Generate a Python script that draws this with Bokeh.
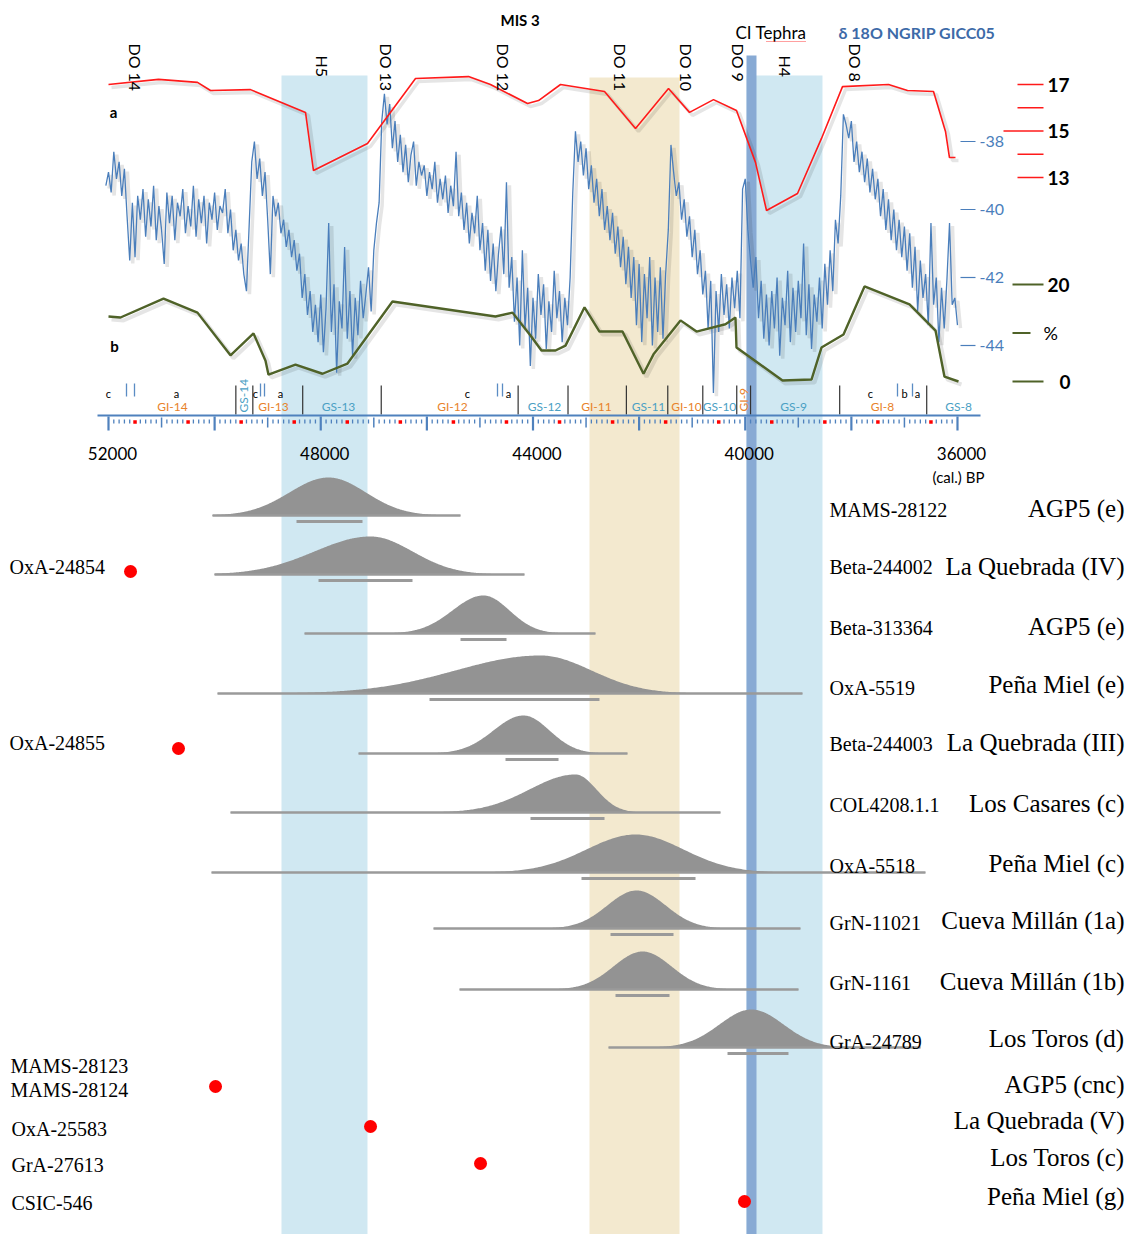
import numpy as np
from bokeh.plotting import figure
from bokeh.models import Range1d
from bokeh.core.properties import value
from bokeh.embed import file_html
from bokeh.resources import INLINE

# ---------------------------------------------------------------- data
# NGRIP d18O (GICC05), read every 50 yr from the picture
D18O_AGE = list(range(52050, 35950, -50))
D18O = [
    -39.3, -38.9, -39.5, -38.3, -39.1, -38.6, -39.6, -38.8, -40.2, -41.5,
    -39.8, -41.4, -39.6, -40.3, -39.4, -40.8, -39.7, -40.5, -39.3, -40.9,
    -39.9, -40.6, -41.6, -39.5, -40.4, -39.6, -40.9, -39.8, -40.2, -39.4,
    -40.7, -39.9, -40.5, -39.3, -40.8, -39.7, -40.4, -39.6, -41.0, -39.8,
    -40.3, -39.5, -40.6, -39.9, -40.1, -39.4, -40.7, -40.0, -41.2, -40.6,
    -41.5, -41.0, -41.9, -42.4, -40.5, -38.6, -38.0, -39.1, -38.5, -39.6,
    -38.9, -40.3, -41.9, -39.6, -40.2, -39.8, -40.7, -40.3, -41.1, -40.6,
    -41.4, -40.9, -41.8, -41.3, -42.6, -41.9, -43.1, -42.4, -43.6, -42.8,
    -43.9, -42.5, -44.2, -42.9, -40.4, -43.6, -42.2, -44.8, -42.7, -43.5,
    -41.1, -43.8, -42.4, -44.3, -42.6, -43.7, -42.1, -43.2, -42.5, -41.7,
    -43.0, -41.2, -40.4, -39.8, -37.4, -36.6, -37.5, -36.9, -38.2, -37.4,
    -38.6, -37.8, -38.9, -38.1, -39.2, -38.4, -38.0, -39.3, -38.6, -39.0,
    -38.7, -39.6, -38.9, -39.4, -38.6, -39.8, -39.1, -39.7, -39.0, -40.1,
    -39.3, -39.9, -38.3, -40.2, -39.5, -40.6, -39.8, -41.0, -40.1, -40.7,
    -39.6, -41.2, -40.4, -41.8, -40.6, -42.1, -41.0, -42.4, -41.3, -40.5,
    -41.9, -39.2, -42.3, -41.4, -43.3, -42.0, -44.0, -41.2, -43.5, -42.3,
    -44.6, -42.6, -43.8, -41.9, -43.1, -42.2, -44.1, -42.7, -43.6, -41.8,
    -43.2, -42.4, -43.9, -42.6, -43.4, -42.0, -39.5, -37.7, -38.6, -38.0,
    -39.0, -38.2, -39.4, -38.7, -39.8, -39.1, -40.2, -39.4, -40.6, -39.9,
    -40.9, -40.1, -41.3, -40.5, -41.7, -40.8, -42.2, -41.1, -42.6, -41.4,
    -43.4, -41.6, -43.9, -41.9, -43.2, -41.4, -44.0, -42.0, -43.6, -41.7,
    -43.8, -41.9, -40.6, -38.1, -38.9, -39.6, -39.2, -40.3, -39.7, -40.8,
    -40.2, -41.4, -40.6, -41.9, -41.2, -42.5, -41.8, -43.5, -42.1, -45.4,
    -42.4, -43.6, -41.9, -43.1, -42.2, -43.5, -42.0, -42.9, -41.8, -43.2,
    -39.4, -39.1, -40.6, -41.5, -42.3, -41.4, -43.2, -42.1, -43.8, -42.5,
    -44.0, -42.4, -43.5, -42.0, -44.3, -42.6, -43.4, -41.8, -43.9, -42.3,
    -43.6, -42.1, -43.2, -41.0, -43.7, -42.2, -44.1, -42.5, -43.3, -42.0,
    -43.5, -41.6, -42.8, -41.2, -42.4, -40.3, -41.0, -39.6, -37.2, -37.5,
    -37.9, -37.4, -38.6, -38.0, -38.9, -38.3, -39.2, -38.5, -39.5, -38.8,
    -39.7, -39.1, -40.2, -39.4, -40.6, -39.7, -40.9, -40.0, -41.2, -40.3,
    -41.4, -40.5, -41.8, -40.7, -42.3, -41.1, -43.0, -41.5, -42.6, -41.9,
    -43.4, -40.4, -42.8, -42.0, -43.9, -42.3, -43.5, -42.1, -40.4, -42.8,
    -42.6, -43.4,
]

# curve a (red)
TEMP_AGE = [52000, 51058, 50323, 50078, 49324, 48287, 48137, 47119, 46214, 45215,
            44801, 44103, 43896, 43481, 42652, 42068, 41446, 41050, 40598, 40165,
            39807, 39599, 39015, 38563, 38167, 37300, 36942, 36452, 36226, 36151, 36038]
TEMP = [17.0, 17.22, 17.09, 16.74, 16.78, 15.80, 13.30, 14.46, 17.26, 17.34,
        17.0, 16.18, 16.31, 17.0, 16.70, 15.11, 16.83, 15.80, 16.35, 15.88,
        13.65, 11.58, 12.31, 14.68, 16.91, 17.0, 16.74, 16.70, 14.98, 13.86, 13.86]

# curve b (green, %)
PCT_AGE = [52000, 51774, 50963, 50323, 49701, 49267, 49041, 48985, 48476, 47967,
           47496, 46648, 44707, 44386, 44047, 43840, 43576, 43387, 43029, 42747,
           42313, 41917, 41729, 41220, 40919, 40372, 40184, 40165, 39298, 38751,
           38563, 38148, 37752, 36904, 36414, 36245, 35981]
PCT = [13.4, 13.2, 17.1, 14.2, 5.4, 9.9, 4.3, 1.4, 3.5, 1.6,
       3.7, 16.5, 13.4, 14.2, 9.5, 6.4, 6.4, 7.4, 15.3, 10.3,
       10.3, 1.6, 5.6, 12.6, 10.3, 11.8, 13.2, 7.0, 0.2, 0.4,
       7.0, 9.7, 19.6, 15.9, 10.5, 1.0, 0.0]

# Greenland stadial / interstadial boundaries (yr b2k)
STAGE_BOUNDS = [49600, 49280, 48340, 46860, 44280, 43340, 42240, 41460,
                40800, 40160, 39900, 38220, 36580]
STAGE_NAMES = ["GI-14", "GS-14", "GI-13", "GS-13", "GI-12", "GS-12", "GI-11",
               "GS-11", "GI-10", "GS-10", "GI-9", "GS-9", "GI-8", "GS-8"]

# shaded events (yr)
H5_BAND = (48740, 47119)
DO11_BAND = (42935, 41239)
H4_BAND = (39976, 38544)
CI_TEPHRA = (39976, 39788)

# radiocarbon dates with calibrated distributions
LAB = ["MAMS-28122", "Beta-244002", "Beta-313364", "OxA-5519", "Beta-244003",
       "COL4208.1.1", "OxA-5518", "GrN-11021", "GrN-1161", "GrA-24789"]
SITE = ["AGP5 (e)", "La Quebrada (IV)", "AGP5 (e)", "Peña Miel (e)", "La Quebrada (III)",
        "Los Casares (c)", "Peña Miel (c)", "Cueva Millán (1a)", "Cueva Millán (1b)",
        "Los Toros (d)"]
MODE = [47854, 47062, 44933, 43859, 44179, 43199, 42068, 42049, 41936, 39882]
SD_OLD = [735, 1055, 584, 1602, 565, 867, 923, 550, 547, 603]
SD_YOUNG = [705, 792, 490, 961, 490, 396, 905, 550, 547, 603]
RANGE_OLD = [50040, 50002, 48306, 49946, 47288, 49701, 50059, 45875, 45385, 42577]
RANGE_YOUNG = [45366, 44160, 42822, 38921, 42219, 40466, 36603, 38959, 38996, 36697]
BAR_OLD = [48457, 48042, 45366, 45950, 44518, 44047, 43086, 42539, 42445, 40334]
BAR_YOUNG = [47213, 46271, 44499, 42747, 43519, 42652, 40937, 41352, 41427, 39185]

# dates shown as dots only
DOT_LAB = ["OxA-24854", "OxA-24855", "MAMS-28123\nMAMS-28124", "OxA-25583", "GrA-27613", "CSIC-546"]
DOT_AGE = [51585, 50681, 49983, 47062, 44989, 40014]
DOT_SITE = ["AGP5 (cnc)", "La Quebrada (V)", "Los Toros (c)", "Peña Miel (g)"]

AXIS_LABEL_AGES = [52000, 48000, 44000, 40000, 36000]

# ---------------------------------------------------------------- layout
W, H = 1128, 1234
YR_L, YR_R = 54035.4, 32777.1          # years at the left / right canvas edge
YPX = (YR_L - YR_R) / W                # years per pixel


def X(px):
    """canvas x pixel -> years (layout helper)"""
    return YR_L - px * YPX


def rng(v1, y1, v2, y2):
    k = (y1 - y2) / (v2 - v1)           # px per unit
    return Range1d(start=v1 - (H - y1) / k, end=v2 + y2 / k)


p = figure(width=W, height=H, x_range=Range1d(YR_L, YR_R), y_range=Range1d(H, 0),
           output_backend="svg", toolbar_location=None, min_border=0,
           x_axis_type=None, y_axis_type=None, outline_line_color=None,
           background_fill_color="white", border_fill_color="white")
p.grid.visible = False
K_T = (177 - 84) / 4.0
K_D = (345 - 141) / 6.0
K_P = (381 - 284) / 20.0
p.extra_y_ranges = {"temp": rng(13, 177, 17, 84),
                    "d18o": rng(-44, 345, -38, 141),
                    "pct": rng(0, 381, 20, 284)}

LATO = value("Lato")
SERIF = value("Liberation Serif")

# bands
p.quad(left=[H5_BAND[0], H4_BAND[0]], right=[H5_BAND[1], H4_BAND[1]],
       top=[75, 75], bottom=[H, H], fill_color="#d0e8f2", line_color=None)
p.quad(left=[DO11_BAND[0]], right=[DO11_BAND[1]], top=[77], bottom=[H],
       fill_color="#f3e9cf", line_color=None)
p.quad(left=[CI_TEPHRA[0]], right=[CI_TEPHRA[1]], top=[55], bottom=[H],
       fill_color="#88aad4", line_color=None)

# soft shadows (offset copies of the series)
sx, sy = 3 * YPX, 3.0
p.line([a - sx for a in D18O_AGE], [v - sy / K_D for v in D18O], y_range_name="d18o",
       line_color="black", line_alpha=0.10, line_width=3.5)
p.line([a - sx for a in TEMP_AGE], [v - sy / K_T for v in TEMP], y_range_name="temp",
       line_color="black", line_alpha=0.10, line_width=3.5)
p.line([a - sx for a in PCT_AGE], [v - sy / K_P for v in PCT], y_range_name="pct",
       line_color="black", line_alpha=0.10, line_width=4)

# series
p.line(D18O_AGE, D18O, y_range_name="d18o", line_color="#4a7ebb", line_width=1.3)
p.line(TEMP_AGE, TEMP, y_range_name="temp", line_color="#ff1a1a", line_width=1.6)
p.line(PCT_AGE, PCT, y_range_name="pct", line_color="#4f6228", line_width=2.4)

# right hand scales
p.segment(x0=[X(1017), X(1017), X(1003), X(1017), X(1017)], x1=[X(1043)] * 5,
          y0=[17, 16, 15, 14, 13], y1=[17, 16, 15, 14, 13], y_range_name="temp",
          line_color="#ff1a1a", line_width=1.6)
p.text(x=[X(1047)] * 3, y=[17, 15, 13], text=["17", "15", "13"], y_range_name="temp",
       text_font=LATO, text_font_size="19px", text_font_style="bold",
       text_align="left", text_baseline="middle", text_color="black")
p.segment(x0=[X(960)] * 4, x1=[X(975)] * 4, y0=[-38, -40, -42, -44], y1=[-38, -40, -42, -44],
          y_range_name="d18o", line_color="#4a7ebb", line_width=1.2)
p.text(x=[X(979)] * 4, y=[-38, -40, -42, -44], text=["-38", "-40", "-42", "-44"],
       y_range_name="d18o", text_font=LATO, text_font_size="16px",
       text_align="left", text_baseline="middle", text_color="#4a7ebb")
p.segment(x0=[X(1012)] * 3, x1=[X(1043), X(1030), X(1043)], y0=[20, 10, 0], y1=[20, 10, 0],
          y_range_name="pct", line_color="#4f6228", line_width=2)
p.text(x=[X(1047), X(1059)], y=[20, 0], text=["20", "0"], y_range_name="pct",
       text_font=LATO, text_font_size="19px", text_font_style="bold",
       text_align="left", text_baseline="middle", text_color="black")
p.text(x=[X(1043)], y=[10], text=["%"], y_range_name="pct",
       text_font=LATO, text_font_size="18px", text_align="left",
       text_baseline="middle", text_color="black")

# top titles
p.text(x=[X(500)], y=[19], text=["MIS 3"], text_font=LATO, text_font_size="15px",
       text_font_style="bold", text_align="left", text_baseline="middle")
p.text(x=[X(735)], y=[32], text=["CI Tephra"], text_font=LATO, text_font_size="17px",
       text_align="left", text_baseline="middle")
p.line([X(766), X(806)], [41, 41], line_color="#ff4040", line_width=1, line_dash="1 1")
p.text(x=[X(838)], y=[32], text=["δ 18O NGRIP GICC05"], text_font=LATO,
       text_font_size="16px", text_font_style="bold", text_align="left",
       text_baseline="middle", text_color="#3d6aa8")
DO_TXT = ["DO 14", "H5", "DO 13", "DO 12", "DO 11", "DO 10", "DO 9", "H4", "DO 8"]
DO_PX = [135, 322, 386, 503, 620, 686, 738, 785, 855]
DO_TOP = [43, 55, 43, 43, 43, 43, 43, 55, 43]
p.text(x=[X(v) for v in DO_PX], y=DO_TOP, text=DO_TXT, angle=-np.pi / 2,
       text_font=LATO, text_font_size="16px", text_align="left",
       text_baseline="middle", text_color="black")
p.text(x=[X(113), X(114)], y=[111, 345], text=["a", "b"], text_font=LATO,
       text_font_size="15px", text_font_style="bold", text_align="center",
       text_baseline="middle")

# stage strip
p.segment(x0=STAGE_BOUNDS, x1=STAGE_BOUNDS, y0=[385] * len(STAGE_BOUNDS),
          y1=[414] * len(STAGE_BOUNDS), line_color="#333333", line_width=1.2)
ST_PX = [172, 243, 273, 338, 452, 544, 596, 648, 686, 719, 743, 793, 882, 958]
hor = [i for i, n in enumerate(STAGE_NAMES) if n not in ("GS-14", "GI-9")]
col = {"GI": "#e8822a", "GS": "#4aa0c4"}
p.text(x=[X(ST_PX[i]) for i in hor], y=[406] * len(hor), text=[STAGE_NAMES[i] for i in hor],
       text_color=[col[STAGE_NAMES[i][:2]] for i in hor], text_font=LATO,
       text_font_size="12px", text_align="center", text_baseline="middle")
ver = [i for i, n in enumerate(STAGE_NAMES) if n in ("GS-14", "GI-9")]
p.text(x=[X(ST_PX[i]) for i in ver], y=[412, 411], text=[STAGE_NAMES[i] for i in ver],
       text_color=[col[STAGE_NAMES[i][:2]] for i in ver], angle=np.pi / 2, text_font=LATO,
       text_font_size="12px", text_align="left", text_baseline="middle")
SUB_TXT = ["c", "a", "c", "a", "c", "a", "c", "b", "a"]
SUB_PX = [108, 176, 255, 280, 467, 508, 870, 904, 917]
p.text(x=[X(v) for v in SUB_PX], y=[393] * len(SUB_PX), text=SUB_TXT, text_font=LATO,
       text_font_size="11px", text_align="center", text_baseline="middle")
SUB_BAR_PX = [126, 134, 260, 264, 497, 502, 897, 912]
p.segment(x0=[X(v) for v in SUB_BAR_PX], x1=[X(v) for v in SUB_BAR_PX],
          y0=[383] * len(SUB_BAR_PX), y1=[396] * len(SUB_BAR_PX),
          line_color="#5b8cc4", line_width=1.3)

# time axis
p.line([X(97), X(980)], [415, 415], line_color="#4f81bd", line_width=2)
minor = [a for a in range(52000, 35999, -100) if a % 500 != 0]
p.segment(x0=minor, x1=minor, y0=[419] * len(minor), y1=[423] * len(minor),
          line_color="#4f81bd", line_width=1.3)
med = [a for a in range(52000, 35999, -1000) if a % 2000 != 0]
p.segment(x0=med, x1=med, y0=[417] * len(med), y1=[427] * len(med),
          line_color="#4f81bd", line_width=1.5)
maj = list(range(52000, 35999, -2000))
p.segment(x0=maj, x1=maj, y0=[416] * len(maj), y1=[430] * len(maj),
          line_color="#4f81bd", line_width=2.2)
half = list(range(51500, 35999, -1000))
p.rect(x=half, y=[421.5] * len(half), width=3.5, height=3.5, width_units="screen",
       height_units="screen", fill_color="#ff0000", line_color=None)
p.text(x=AXIS_LABEL_AGES, y=[453] * 5, text=[str(a) for a in AXIS_LABEL_AGES],
       x_offset=4, text_font=LATO, text_font_size="17px", text_align="center",
       text_baseline="middle")
p.text(x=[X(958)], y=[476], text=["(cal.) BP"], text_font=LATO, text_font_size="15px",
       text_align="center", text_baseline="middle")

# calibrated distributions
ROW_Y = [515, 574, 633, 693, 753, 812, 872, 928, 989, 1047]
PEAK_PX = 38
for i in range(len(LAB)):
    base = ROW_Y[i]
    xs = np.linspace(RANGE_OLD[i], RANGE_YOUNG[i], 400)
    sig = np.where(xs > MODE[i], SD_OLD[i], SD_YOUNG[i])
    hh = PEAK_PX * np.exp(-0.5 * ((xs - MODE[i]) / sig) ** 2)
    p.varea(x=xs, y1=np.full_like(xs, base + 0.5), y2=base - hh, fill_color="#939393")
    p.segment(x0=[RANGE_OLD[i]], x1=[RANGE_YOUNG[i]], y0=[base], y1=[base],
              line_color="#9a9a9a", line_width=2.5)
    p.segment(x0=[BAR_OLD[i]], x1=[BAR_YOUNG[i]], y0=[base + 6], y1=[base + 6],
              line_color="#9a9a9a", line_width=3)

LAB_Y = [509, 566, 627, 687, 743, 804, 865, 922, 982, 1041]
p.text(x=[X(829)] * len(LAB), y=LAB_Y, text=LAB, text_font=SERIF, text_font_size="20px",
       text_align="left", text_baseline="middle", text_color="black")
SITE_Y = [508, 566, 626, 684, 742, 803, 863, 920, 981, 1038, 1084, 1120, 1157, 1196]
p.text(x=[X(1124)] * len(SITE_Y), y=SITE_Y, text=SITE + DOT_SITE, text_font=SERIF,
       text_font_size="25px", text_align="right", text_baseline="middle", text_color="black")

# dots
DOT_Y = [571, 748, 1086, 1126, 1163, 1201]
p.scatter(x=DOT_AGE, y=DOT_Y, size=13, fill_color="#ff0000", line_color=None)
left_txt = ["OxA-24854", "OxA-24855", "MAMS-28123", "MAMS-28124", "OxA-25583", "GrA-27613", "CSIC-546"]
left_px = [9, 9, 10, 10, 11, 11, 11]
left_y = [566, 742, 1065, 1089, 1128, 1164, 1202]
p.text(x=[X(v) for v in left_px], y=left_y, text=left_txt, text_font=SERIF,
       text_font_size="20px", text_align="left", text_baseline="middle", text_color="black")

assert len(D18O) == len(D18O_AGE)
open("out.html", "w").write(file_html(p, INLINE))
